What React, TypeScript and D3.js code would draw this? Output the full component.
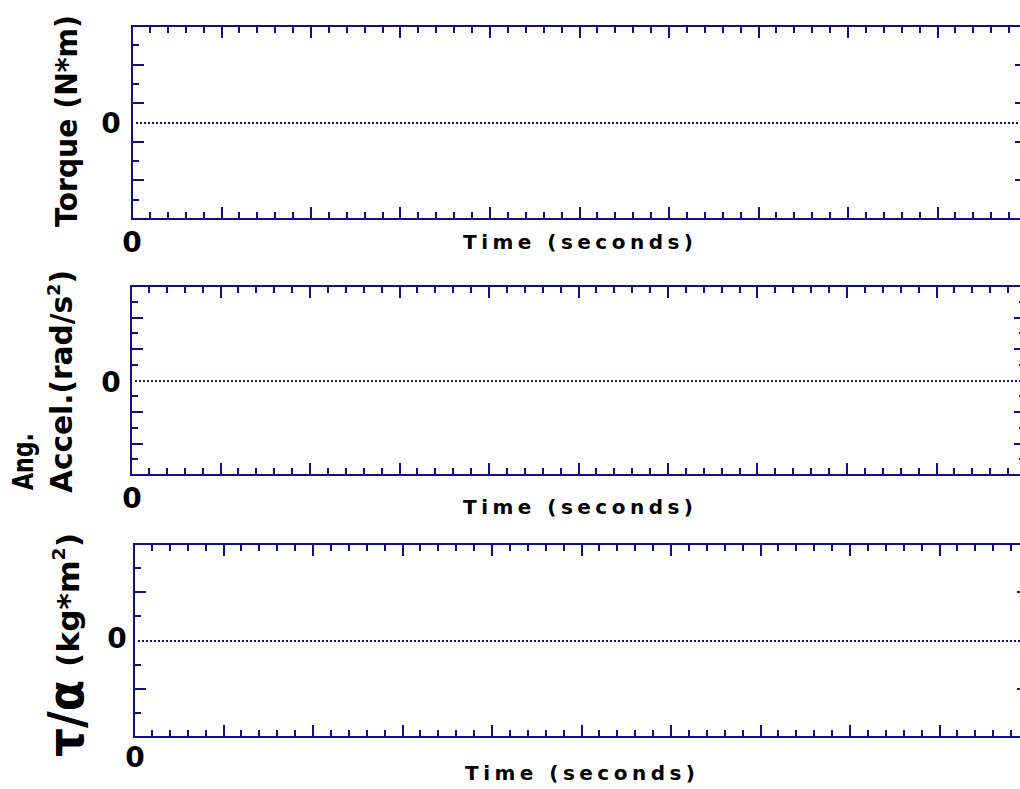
import React from "react";
import * as d3 from "d3";

// ---- data ----
const timeDomain: [number, number] = [0, 10];
const timeMinorStep = 0.2;
const timeMajorStep = 1;
const torqueDomain: [number, number] = [-5, 5];
const accelDomain: [number, number] = [-6, 6];
const ratioDomain: [number, number] = [-4, 4];
const zeroValue = 0;
const xTickLabels = ["0"];
const yTickLabels = ["0"];
const xAxisTitle = "Time (seconds)";

const NAVY = "#10108a";

type Panel = {
  left: number; right: number; top: number; bottom: number;
  domain: [number, number];
  isMajorY: (v: number) => boolean;
  yLabelPos: [number, number];
  xLabelPos: [number, number];
  titleBaseline: number;
  titleX: number;
};

const panels: Panel[] = [
  { left: 132, right: 1027, top: 26, bottom: 219, domain: torqueDomain,
    isMajorY: (v) => Math.abs(v) % 2 === 1, yLabelPos: [111, 133], xLabelPos: [132, 252], titleBaseline: 249, titleX: 578 },
  { left: 131, right: 1026, top: 286, bottom: 475, domain: accelDomain,
    isMajorY: (v) => Math.abs(v) % 2 === 0, yLabelPos: [111, 392], xLabelPos: [132, 508], titleBaseline: 514, titleX: 578 },
  { left: 134, right: 1029, top: 544, bottom: 737, domain: ratioDomain,
    isMajorY: (v) => Math.abs(v) % 2 === 0, yLabelPos: [117, 648], xLabelPos: [135, 767], titleBaseline: 780, titleX: 580 },
];

const FONT = "'DejaVu Sans', sans-serif";

function PanelView({ p }: { p: Panel }) {
  const x = d3.scaleLinear().domain(timeDomain).range([p.left, p.right]);
  const y = d3.scaleLinear().domain(p.domain).range([p.bottom, p.top]);
  const nX = Math.round((timeDomain[1] - timeDomain[0]) / timeMinorStep);
  const xTicks = d3.range(1, nX).map((i) => timeDomain[0] + i * timeMinorStep);
  const yTicks = d3.range(p.domain[0] + 1, p.domain[1]).filter((v) => v !== 0);
  const MAJ = 12, MIN = 7;
  const isMajX = (v: number) => Math.abs(v / timeMajorStep - Math.round(v / timeMajorStep)) < 1e-6;
  const zy = Math.round(y(zeroValue));
  return (
    <g>
      <rect x={p.left} y={p.top} width={p.right - p.left} height={p.bottom - p.top}
        fill="none" stroke={NAVY} strokeWidth={2} />
      {xTicks.map((v, i) => {
        const L = isMajX(v) ? MAJ : MIN;
        const xx = Math.round(x(v));
        return (
          <g key={"x" + i}>
            <line x1={xx} x2={xx} y1={p.top} y2={p.top + L} stroke={NAVY} strokeWidth={2} />
            <line x1={xx} x2={xx} y1={p.bottom} y2={p.bottom - L} stroke={NAVY} strokeWidth={2} />
          </g>
        );
      })}
      {yTicks.map((v, i) => {
        const L = p.isMajorY(v) ? MAJ : MIN;
        const yy = Math.round(y(v));
        return (
          <g key={"y" + i}>
            <line x1={p.left} x2={p.left + L} y1={yy} y2={yy} stroke={NAVY} strokeWidth={2} />
            <line x1={p.right} x2={p.right - L} y1={yy} y2={yy} stroke={NAVY} strokeWidth={2} />
          </g>
        );
      })}
      <line x1={p.left + 4} x2={p.right} y1={zy} y2={zy}
        stroke={NAVY} strokeWidth={2} strokeDasharray="2 2" />
      <text x={p.yLabelPos[0]} y={p.yLabelPos[1]} textAnchor="middle" fontFamily={FONT}
        fontWeight="bold" fontSize={28}>{yTickLabels[0]}</text>
      <text x={p.xLabelPos[0]} y={p.xLabelPos[1]} textAnchor="middle" fontFamily={FONT}
        fontWeight="bold" fontSize={28}>{xTickLabels[0]}</text>
      <text x={p.titleX} y={p.titleBaseline} textAnchor="middle" fontFamily={FONT}
        fontWeight="bold" fontSize={20} textLength={230} lengthAdjust="spacing">{xAxisTitle}</text>
    </g>
  );
}

export default function App() {
  return (
    <svg width={1020} height={789} style={{ position: "absolute", left: 0, top: 0, background: "#fff" }}
      fontFamily={FONT}>
      <rect x={0} y={0} width={1020} height={789} fill="#fff" />
      {panels.map((p, i) => <PanelView key={i} p={p} />)}
      {/* Y axis titles */}
      <text transform="translate(77,227) rotate(-90)" fontWeight="bold" fontSize={30}
        textLength={212} lengthAdjust="spacingAndGlyphs">Torque (N*m)</text>
      <g transform="translate(33,490) rotate(-90)">
        <g transform="scale(0.76,1)">
          <text x={0} y={0} fontWeight="bold" fontSize="29px">Ang.</text>
        </g>
      </g>
      <text transform="translate(72,493) rotate(-90)" fontWeight="bold" fontSize={30}
        textLength={223} lengthAdjust="spacingAndGlyphs">
        Accel.(rad/s<tspan dy={-12} fontSize={18}>2</tspan><tspan dy={12}>)</tspan>
      </text>
      <text transform="translate(83,757) rotate(-90)" fontWeight="bold" fontSize={50}
        textLength={77} lengthAdjust="spacingAndGlyphs">τ/α</text>
      <text transform="translate(79,667) rotate(-90)" fontWeight="bold" fontSize={30}
        textLength={134} lengthAdjust="spacingAndGlyphs">
        (kg*m<tspan dy={-14} fontSize={18}>2</tspan><tspan dy={14}>)</tspan>
      </text>
    </svg>
  );
}
